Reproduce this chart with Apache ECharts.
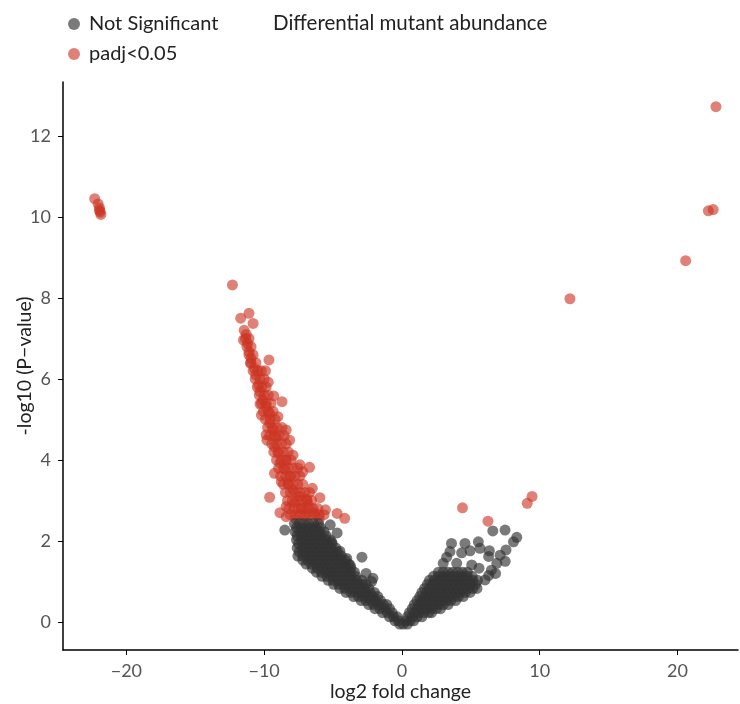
<!DOCTYPE html>
<html>
<head>
<meta charset="utf-8">
<script src="https://cdn.jsdelivr.net/npm/echarts@6/dist/echarts.min.js"></script>
<style>
  html, body { margin: 0; padding: 0; background: #fff; }
  #main { width: 740px; height: 704px; }
</style>
</head>
<body>
<div id="main"></div>
<script>
const seriesNames = ['Not Significant', 'padj<0.05'];
const xTicks = [-20, -10, 0, 10, 20];
const yTicks = [0, 2, 4, 6, 8, 10, 12];

// padj<0.05, single points [log2FC, -log10 p]
const sigPoints = [
  [-22.3, 10.45], [-22.05, 10.32], [-21.95, 10.22], [-21.9, 10.12], [-21.85, 10.06], [-21.95, 10.16],
  [22.8, 12.72], [22.6, 10.18], [22.25, 10.15], [20.6, 8.92], [12.2, 7.98],
  [9.45, 3.1], [9.1, 2.93], [6.25, 2.49], [4.4, 2.82],
  [-12.3, 8.32], [-11.1, 7.62], [-11.7, 7.5], [-10.8, 7.37], [-11.3, 7.1], [-11.5, 6.96],
  [-11.2, 6.88], [-11.1, 6.67], [-10.95, 6.51], [-9.65, 6.47], [-11.0, 6.39], [-10.7, 6.26],
  [-9.9, 6.2], [-10.6, 6.1], [-9.7, 5.92], [-10.4, 5.85], [-10.3, 5.69], [-9.3, 5.58],
  [-8.7, 5.44], [-10.1, 5.48], [-10.3, 5.38], [-9.85, 5.32], [-10.2, 5.11], [-9.0, 5.07],
  [-9.6, 5.15], [-9.6, 4.91], [-9.35, 4.74], [-8.4, 4.74], [-9.85, 4.62], [-9.1, 4.57],
  [-8.15, 4.49], [-9.8, 4.49], [-9.25, 4.33], [-9.0, 4.17], [-7.9, 4.12], [-8.4, 4.0],
  [-8.85, 3.92], [-7.4, 3.88], [-6.7, 3.82], [-7.2, 3.71], [-9.25, 3.67], [-8.5, 3.77],
  [-8.1, 3.6], [-8.75, 3.46], [-8.25, 3.42], [-6.5, 3.3], [-7.9, 3.26], [-9.6, 3.08],
  [-7.4, 3.1], [-5.95, 3.07], [-6.9, 3.03], [-7.8, 2.95], [-6.8, 2.9], [-8.4, 2.85],
  [-5.55, 2.77], [-8.85, 2.7], [-7.3, 2.8], [-6.35, 2.7], [-4.7, 2.68], [-4.15, 2.56],
  [-8.4, 2.6], [-7.7, 2.55], [-7.0, 2.6], [-6.0, 2.55]
];

// padj<0.05, dense core of the left arm: [y, [x ...]]
const sigCoreRows = [
  [7.2, [-11.45]],
  [7.0, [-11.35, -11.1]],
  [6.8, [-11.25, -10.95]],
  [6.6, [-11.1, -10.8]],
  [6.4, [-10.95, -10.6]],
  [6.2, [-10.8, -10.45, -10.2]],
  [6.0, [-10.65, -10.3, -10.0]],
  [5.8, [-10.5, -10.15, -9.85]],
  [5.6, [-10.35, -10.0, -9.7]],
  [5.4, [-10.2, -9.85, -9.5]],
  [5.2, [-10.05, -9.7, -9.35]],
  [5.0, [-9.9, -9.55, -9.2]],
  [4.8, [-9.75, -9.4, -9.05, -8.7]],
  [4.6, [-9.6, -9.25, -8.9, -8.55]],
  [4.4, [-9.45, -9.1, -8.75, -8.4]],
  [4.2, [-9.3, -8.95, -8.6, -8.25]],
  [4.0, [-9.1, -8.75, -8.4, -8.05]],
  [3.8, [-8.95, -8.6, -8.25, -7.9, -7.55]],
  [3.6, [-8.8, -8.45, -8.1, -7.75, -7.4]],
  [3.4, [-8.6, -8.25, -7.9, -7.55, -7.2]],
  [3.2, [-8.45, -8.1, -7.75, -7.4, -7.05, -6.7]],
  [3.0, [-8.3, -7.95, -7.6, -7.25, -6.9, -6.55]],
  [2.8, [-8.2, -7.85, -7.5, -7.15, -6.8, -6.45, -6.1]],
  [2.65, [-8.1, -7.75, -7.4, -7.05, -6.7, -6.35, -6.0, -5.65]]
];

// not significant, dense V cloud: [y, [x ...]]
const nsRows = [
  [2.43, [-7.8, -7.45, -7.1, -6.75, -6.4, -6.05]],
  [2.33, [-7.65, -7.3, -6.95, -6.6, -6.25, -5.9]],
  [2.23, [-7.75, -7.4, -7.05, -6.7, -6.35, -6.0, -5.65]],
  [2.13, [-7.6, -7.25, -6.9, -6.55, -6.2, -5.85, -5.5]],
  [2.03, [-7.65, -7.3, -6.95, -6.6, -6.25, -5.9, -5.55, -5.2]],
  [1.93, [-7.5, -7.15, -6.8, -6.45, -6.1, -5.75, -5.4, -5.05]],
  [1.83, [-7.6, -7.25, -6.9, -6.55, -6.2, -5.85, -5.5, -5.15, -4.8]],
  [1.73, [-7.45, -7.1, -6.75, -6.4, -6.05, -5.7, -5.35, -5.0, -4.65]],
  [1.63, [-7.55, -7.2, -6.85, -6.5, -6.15, -5.8, -5.45, -5.1, -4.75, -4.4]],
  [1.53, [-7.2, -6.85, -6.5, -6.15, -5.8, -5.45, -5.1, -4.75, -4.4, -4.1]],
  [1.43, [-6.95, -6.6, -6.25, -5.9, -5.55, -5.2, -4.85, -4.5, -4.15, -3.85]],
  [1.33, [-6.5, -6.15, -5.8, -5.45, -5.1, -4.75, -4.4, -4.05, -3.7]],
  [1.23, [-6.2, -5.85, -5.5, -5.15, -4.8, -4.45, -4.1, -3.75, -3.45]],
  [1.13, [-5.8, -5.45, -5.1, -4.75, -4.4, -4.05, -3.7, -3.35]],
  [1.03, [-5.35, -5.0, -4.65, -4.3, -3.95, -3.6, -3.25, -2.9]],
  [0.93, [-4.95, -4.6, -4.25, -3.9, -3.55, -3.2, -2.85, -2.6]],
  [0.83, [-4.5, -4.15, -3.8, -3.45, -3.1, -2.75, -2.4]],
  [0.73, [-4.05, -3.7, -3.35, -3.0, -2.65, -2.3, -2.0]],
  [0.63, [-3.5, -3.15, -2.8, -2.45, -2.1, -1.75]],
  [0.53, [-2.95, -2.6, -2.25, -1.9, -1.55]],
  [0.43, [-2.4, -2.05, -1.7, -1.35, -1.1]],
  [0.33, [-1.95, -1.6, -1.25, -0.9]],
  [0.23, [-1.4, -1.05, -0.7]],
  [0.13, [-0.9, -0.6, -0.35]],
  [0.03, [-0.5, -0.25, 0.3, 0.6, 0.85]],
  [-0.05, [-0.15, 0.1, 0.4]],
  [0.13, [0.4, 0.75, 1.1, 1.45]],
  [0.23, [0.55, 0.9, 1.25, 1.6, 1.95, 2.15]],
  [0.33, [0.75, 1.1, 1.45, 1.8, 2.15, 2.5, 2.8]],
  [0.43, [0.9, 1.25, 1.6, 1.95, 2.3, 2.65, 3.0, 3.35]],
  [0.53, [1.1, 1.45, 1.8, 2.15, 2.5, 2.85, 3.2, 3.55, 3.9]],
  [0.63, [1.3, 1.65, 2.0, 2.35, 2.7, 3.05, 3.4, 3.75, 4.1, 4.45]],
  [0.73, [1.45, 1.8, 2.15, 2.5, 2.85, 3.2, 3.55, 3.9, 4.25, 4.6, 4.95]],
  [0.83, [1.65, 2.0, 2.35, 2.7, 3.05, 3.4, 3.75, 4.1, 4.45, 4.8, 5.15, 5.45]],
  [0.93, [1.85, 2.2, 2.55, 2.9, 3.25, 3.6, 3.95, 4.3, 4.65, 5.0, 5.35]],
  [1.03, [2.0, 2.35, 2.7, 3.05, 3.4, 3.75, 4.1, 4.45, 4.8, 5.15, 5.5]],
  [1.13, [2.3, 2.65, 3.0, 3.35, 3.7, 4.05, 4.4, 4.75, 5.1]],
  [1.23, [2.65, 3.0, 3.35, 3.7, 4.05, 4.4, 4.75]]
];

// not significant, scattered single points
const nsPoints = [
  [-8.5, 2.27], [-4.7, 2.2], [-5.2, 2.4], [-2.9, 1.6], [-2.6, 1.2], [-2.1, 1.08], [-2.2, 1.0],
  [-3.75, 1.4], [-4.0, 1.57], [-4.5, 1.75], [-5.1, 1.98],
  [3.6, 1.94], [4.58, 1.94], [5.55, 1.98], [5.67, 1.82], [3.49, 1.74], [4.34, 1.71], [4.95, 1.76],
  [6.35, 1.76], [7.56, 1.78], [7.13, 1.65], [6.3, 1.62], [3.25, 1.6], [3.98, 1.45], [3.0, 1.45],
  [6.89, 1.45], [7.5, 1.5], [5.07, 1.41], [5.6, 1.33], [6.5, 1.28], [6.04, 1.04], [6.8, 1.2], [6.3, 1.15],
  [6.6, 2.25], [7.49, 2.27], [8.34, 2.09], [8.1, 1.98]
];

function fromRows(rows) {
  const out = [];
  rows.forEach(function (r) {
    r[1].forEach(function (x) { out.push([x, r[0]]); });
  });
  return out;
}

const chart = echarts.init(document.getElementById('main'));
const font = 'Lato';
const minus = function (v) { return String(v).replace('-', '\u2212'); };

const option = {
  animation: false,
  title: {
    text: 'Differential mutant abundance',
    left: 268,
    top: 8,
    textStyle: { fontFamily: font, fontSize: 20.5, fontWeight: 'normal', color: '#222' }
  },
  legend: {
    orient: 'vertical',
    left: 63,
    top: 9,
    itemWidth: 12,
    itemHeight: 12,
    itemGap: 10,
    data: [
      { name: seriesNames[0], icon: 'circle' },
      { name: seriesNames[1], icon: 'circle' }
    ],
    textStyle: { fontFamily: font, fontSize: 20, color: '#222', padding: [0, 0, 0, 4] }
  },
  grid: { left: 63, right: 2, top: 82, bottom: 54, containLabel: false, outerBoundsMode: 'none' },
  xAxis: {
    type: 'value',
    min: -24.6,
    max: 24.4,
    name: 'log2 fold change',
    nameLocation: 'middle',
    nameGap: 32,
    nameMoveOverlap: false,
    nameTextStyle: { fontFamily: font, fontSize: 19.5, color: '#222' },
    axisLine: { onZero: false, lineStyle: { color: '#000', width: 1.5 } },
    axisTick: { show: true, length: 5, customValues: xTicks, lineStyle: { color: '#000' } },
    axisLabel: { customValues: xTicks, margin: 12, formatter: minus, fontFamily: font, fontSize: 18, color: '#555' },
    splitLine: { show: false }
  },
  yAxis: {
    type: 'value',
    min: -0.69,
    max: 13.33,
    name: '-log10 (P\u2212value)',
    nameLocation: 'middle',
    nameGap: 28,
    nameMoveOverlap: false,
    nameTextStyle: { fontFamily: font, fontSize: 19.5, color: '#222' },
    axisLine: { show: true, onZero: false, lineStyle: { color: '#000', width: 1.5 } },
    axisTick: { show: true, length: 5, customValues: yTicks, lineStyle: { color: '#000' } },
    axisLabel: { customValues: yTicks, margin: 12, fontFamily: font, fontSize: 18, color: '#555' },
    splitLine: { show: false }
  },
  series: [
    {
      name: seriesNames[1],
      type: 'scatter',
      symbol: 'circle',
      symbolSize: 11,
      data: sigPoints.concat(fromRows(sigCoreRows)),
      itemStyle: { color: '#cc3322', opacity: 0.62 }
    },
    {
      name: seriesNames[0],
      type: 'scatter',
      symbol: 'circle',
      symbolSize: 11,
      data: fromRows(nsRows).concat(nsPoints),
      itemStyle: { color: '#333333', opacity: 0.65 }
    }
  ]
};

chart.setOption(option);
</script>
</body>
</html>
